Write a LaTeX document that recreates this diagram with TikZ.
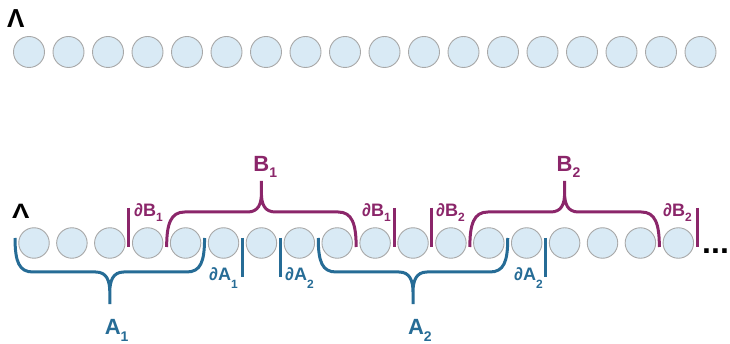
\documentclass[tikz,border=0pt]{standalone}
\usepackage{fontspec}
\setmainfont{Liberation Sans}
\usetikzlibrary{calc}

\definecolor{sitefill}{RGB}{217,234,245}
\definecolor{siteedge}{RGB}{168,168,168}
\definecolor{bcol}{RGB}{139,38,106}
\definecolor{acol}{RGB}{38,108,150}

% lowered subscript: size, drop, text
\newcommand\lowsub[3]{\raisebox{-#2}{\fontsize{#1}{#1}\selectfont #3}}
\newcommand\pd{∂}

% horizontal position of the gap after bottom site #1
\newcommand\gapat[1]{34+37.9*(#1-0.5)}

% curly brace opening downwards onto the row (above it)
\newcommand\upbrace[3]{%
  \pgfmathsetmacro\bl{\gapat{#1}}%
  \pgfmathsetmacro\br{\gapat{#2}}%
  \pgfmathsetmacro\bm{(\bl+\br)/2}%
  \draw[#3] (\bl,247) .. controls (\bl,224) and (\bl+4,212) .. (\bl+18,212)
    -- (\bm-14,212) .. controls (\bm-3,212) and (\bm,204) .. (\bm,193) -- (\bm,181)
    (\bm,193) .. controls (\bm,204) and (\bm+3,212) .. (\bm+14,212)
    -- (\br-18,212) .. controls (\br-4,212) and (\br,224) .. (\br,247);}

% curly brace opening upwards onto the row (below it)
\newcommand\downbrace[3]{%
  \pgfmathsetmacro\bl{\gapat{#1}}%
  \pgfmathsetmacro\br{\gapat{#2}}%
  \pgfmathsetmacro\bm{(\bl+\br)/2}%
  \draw[#3] (\bl,238) .. controls (\bl,262) and (\bl+4,272) .. (\bl+18,272)
    -- (\bm-14,272) .. controls (\bm-3,272) and (\bm,281) .. (\bm,292) -- (\bm,304)
    (\bm,292) .. controls (\bm,281) and (\bm+3,272) .. (\bm+14,272)
    -- (\br-18,272) .. controls (\br-4,272) and (\br,262) .. (\br,238);}

\begin{document}
\begin{tikzpicture}[x=1pt,y=-1pt,
  site/.style={circle,draw=siteedge,fill=sitefill,line width=0.9pt,
               minimum size=31pt,inner sep=0pt},
  siteb/.style={site,minimum size=30.5pt},
  bline/.style={draw=bcol,line width=3pt},
  aline/.style={draw=acol,line width=3pt},
  blab/.style={text=bcol,font=\fontsize{18}{18}\bfseries,inner sep=0pt},
  alab/.style={text=acol,font=\fontsize{18}{18}\bfseries,inner sep=0pt},
  bbig/.style={text=bcol,font=\fontsize{22}{22}\bfseries,inner sep=0pt,anchor=base},
  abig/.style={text=acol,font=\fontsize{22}{22}\bfseries,inner sep=0pt,anchor=base},
  lam/.style={font=\fontsize{26}{26}\bfseries,inner sep=0pt,anchor=base west}]

\useasboundingbox[fill=white] (0,0) rectangle (730,344);

% the full lattice
\node[lam] (lamtop) at (7,28) {Λ};
\foreach \i in {1,...,18}
  \node[site] (t\i) at ({29+39.5*(\i-1)},52) {};

% the lattice split into blocks
\node[lam] (lambot) at (12,219) {\scalebox{1}[0.8]{Λ}};
\foreach \i in {1,...,18}
  \node[siteb] (b\i) at ({34+37.9*(\i-1)},243) {};
\foreach \i in {0,...,18}
  \coordinate (g\i) at ({\gapat{\i}},243);
\node[font=\fontsize{32}{32}\bfseries,inner sep=0pt,anchor=base west] (more) at (702,254) {...};

% B blocks and their boundaries
\upbrace{4}{9}{bline}
\upbrace{12}{17}{bline}
\foreach \g in {3,10,11,18}
  \draw[bline] ($(g\g)+(0,-35)$) -- ($(g\g)+(0,4)$);
\node[bbig] (B1) at ({(\gapat{4}+\gapat{9})/2},172) {B\rlap{\lowsub{14}{6pt}{1}}};
\node[bbig] (B2) at ({(\gapat{12}+\gapat{17})/2},172) {B\rlap{\lowsub{14}{6pt}{2}}};
\node[blab,anchor=base west] (dB1a) at (134,217) {\pd B\lowsub{12}{5pt}{1}};
\node[blab,anchor=base east] (dB1b) at (391,217) {\pd B\lowsub{12}{5pt}{1}};
\node[blab,anchor=base west] (dB2a) at (436,217) {\pd B\lowsub{12}{5pt}{2}};
\node[blab,anchor=base east] (dB2b) at (692,217) {\pd B\lowsub{12}{5pt}{2}};

% A blocks and their boundaries
\downbrace{0}{5}{aline}
\downbrace{8}{13}{aline}
\foreach \g in {6,7,14}
  \draw[aline] ($(g\g)+(0,-5)$) -- ($(g\g)+(0,34)$);
\node[abig] (A1) at ({(\gapat{0}+\gapat{5})/2+3},334) {A\rlap{\lowsub{14}{8pt}{1}}};
\node[abig] (A2) at ({(\gapat{8}+\gapat{13})/2+3},334) {A\rlap{\lowsub{14}{8pt}{2}}};
\node[alab,anchor=base east] (dA1) at (238,281) {\pd A\lowsub{12}{7pt}{1}};
\node[alab,anchor=base west] (dA2a) at (285,281) {\pd A\lowsub{12}{7pt}{2}};
\node[alab,anchor=base east] (dA2b) at (543,281) {\pd A\lowsub{12}{7pt}{2}};
\end{tikzpicture}
\end{document}
